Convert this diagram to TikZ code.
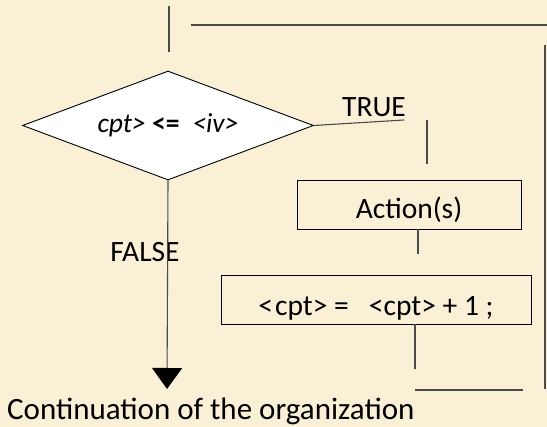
\documentclass[tikz,border=0pt]{standalone}
\usepackage{fontspec}
\setmainfont{Carlito}
\usetikzlibrary{shapes.geometric,arrows.meta}
\definecolor{paper}{HTML}{FAF0D5}
\definecolor{wire}{HTML}{4A4A4A}
\begin{document}
\begin{tikzpicture}[x=1pt,y=-1pt,
  every node/.style={font=\fontsize{29.5}{35}\selectfont, inner sep=0pt},
  wire/.style={draw=wire, line width=1.1pt},
  decision/.style={shape=diamond, draw=black, line width=0.9pt, fill=white,
    aspect=2.67, minimum width=291pt, minimum height=109pt},
  stepbox/.style={draw=black, line width=0.9pt, inner xsep=0pt, inner ysep=0pt},
  lbl/.style={anchor=base}]
% page background
\fill[paper] (0,0) rectangle (547,427);
\useasboundingbox (0,0) rectangle (547,427);

% loop condition
\node[decision, font=\fontsize{27.5}{33}\selectfont] (test) at (168,125.5)
  {\raisebox{-4pt}{\textit{cpt>} \textbf{<=}\hspace{13pt}\textit{<iv>}}};

% loop body
\node[stepbox, minimum width=224pt, text height=39pt, text depth=10pt,
  anchor=base] (action) at (409,219) {Action(s)\hspace{8pt}};
\node[stepbox, minimum width=310pt, text height=41pt, text depth=8pt,
  anchor=base] (incr) at (376,316)
  {<\hspace{2pt}cpt> =\hspace{20pt}<cpt> + 1 ;\hspace{11pt}};

% labels
\node[lbl] (truelbl) at (374,117) {TRUE};
\node[lbl] (falselbl) at (145,262) {FALSE};
\node[anchor=base west, font=\fontsize{31}{37}\selectfont] (cont) at (7,420)
  {Continuation of the organization};

% loose ends of the loop wiring
\coordinate (inTop) at (169,6);
\coordinate (inBot) at (169,52);
\coordinate (backL) at (191,25);
\coordinate (backR) at (547,25);
\coordinate (sideTop) at (545,45);
\coordinate (sideBot) at (545,389);
\coordinate (trueEnd) at (404,120);
\coordinate (bodyTop) at (427,120);
\coordinate (bodyBot) at (427,164);
\coordinate (actTail) at (418,254);
\coordinate (incTail) at (415,369);
\coordinate (baseL) at (415,390);
\coordinate (baseR) at (523,390);
\coordinate (exitTip) at (167,389);

\draw[wire] (inTop) -- (inBot);
\draw[wire] (backL) -- (backR);
\draw[wire] (sideTop) -- (sideBot);
\draw[wire] (test.east) -- (trueEnd);
\draw[wire] (bodyTop) -- (bodyBot);
\draw[wire] (action.south -| actTail) -- (actTail);
\draw[wire] (incr.south -| incTail) -- (incTail);
\draw[wire] (baseL) -- (baseR);
\draw[wire, -{Triangle[width=30pt,length=21pt,color=black]}]
  (test.south) -- (exitTip);
\end{tikzpicture}
\end{document}
